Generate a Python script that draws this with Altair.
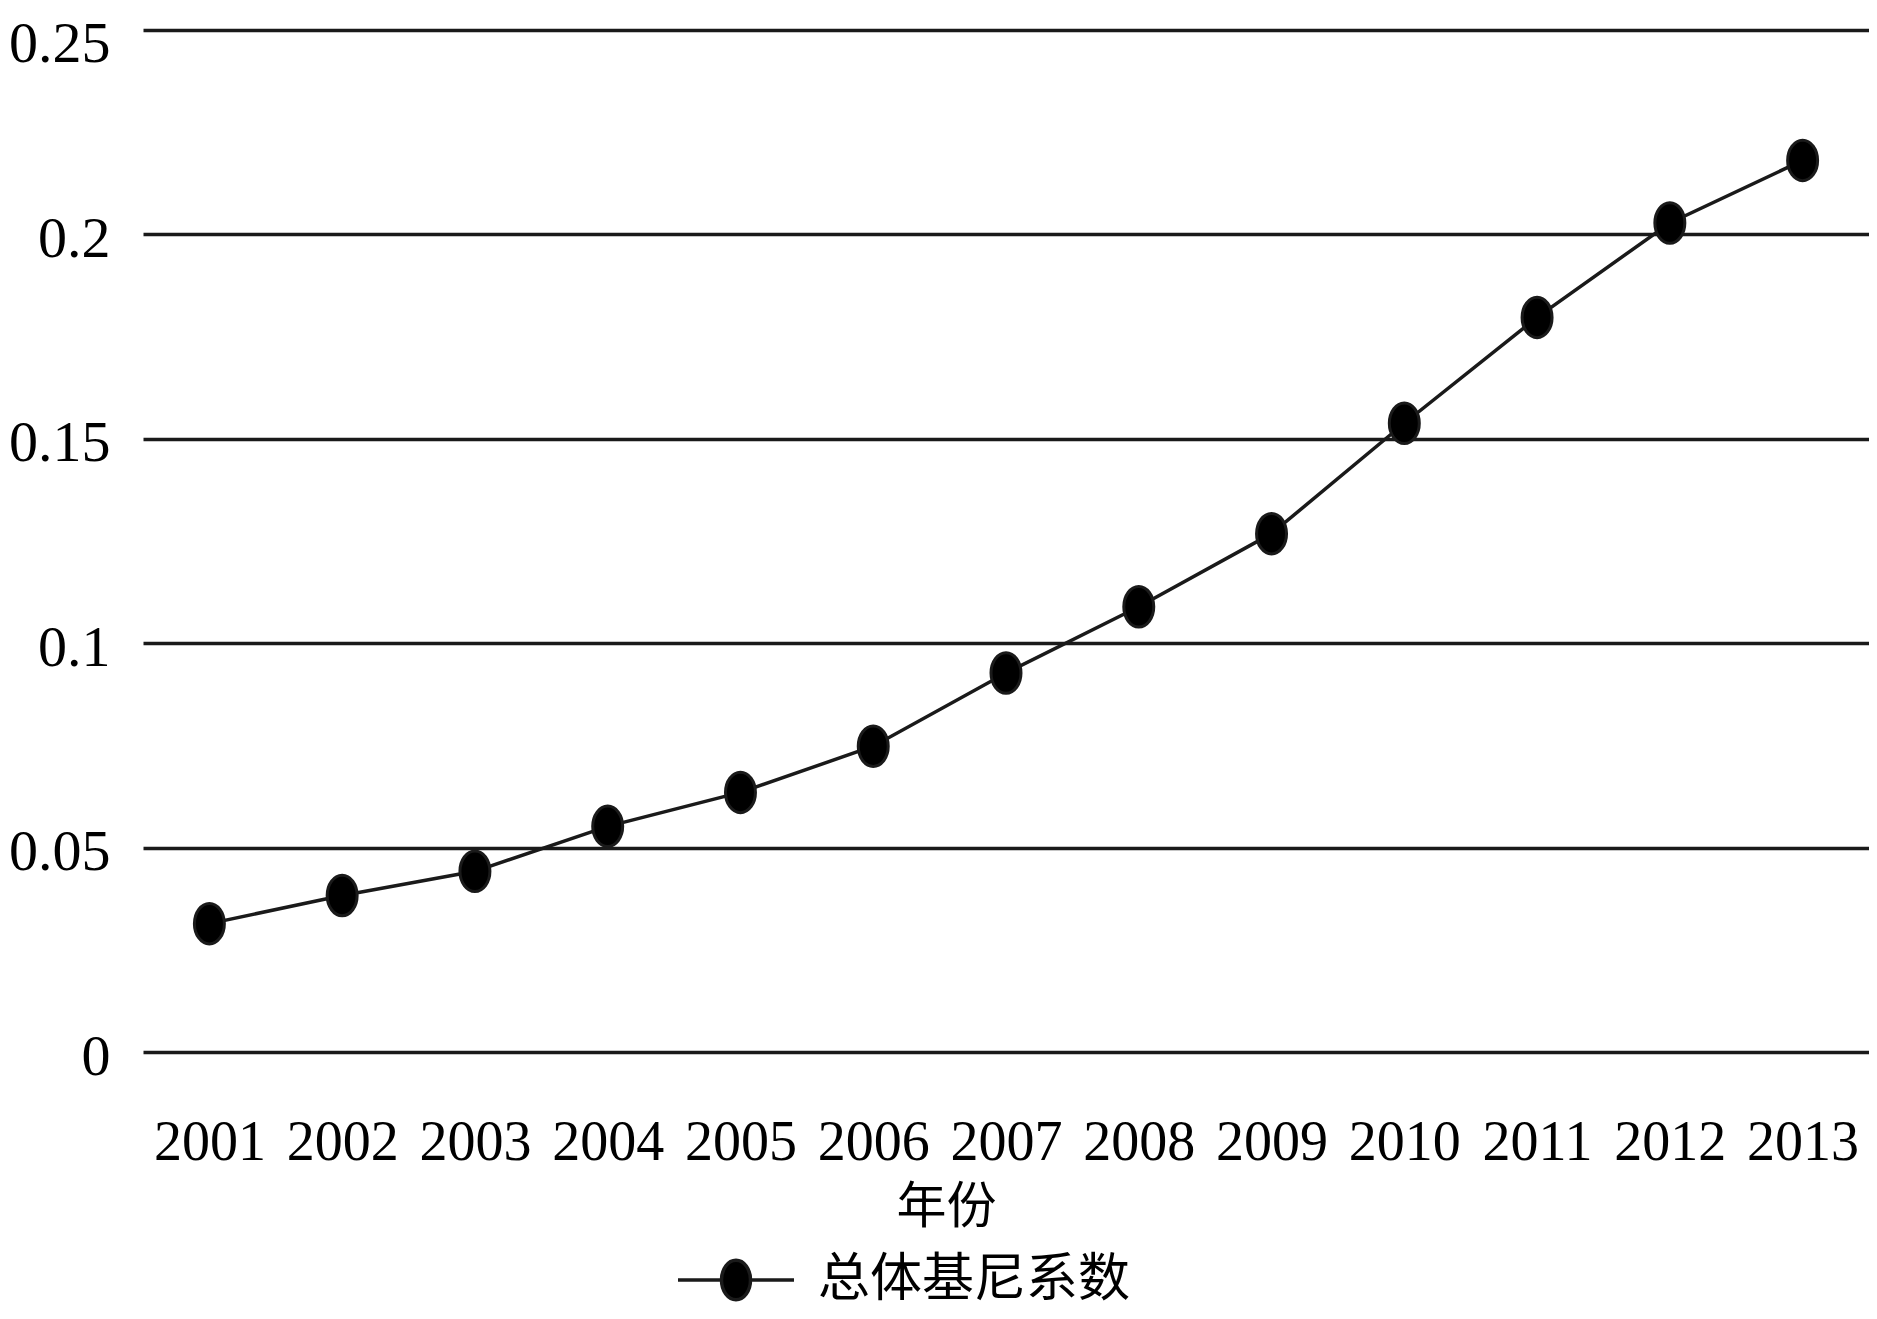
import altair as alt
import pandas as pd

years = ["2001", "2002", "2003", "2004", "2005", "2006", "2007",
         "2008", "2009", "2010", "2011", "2012", "2013"]
gini = [0.0314, 0.0383, 0.0442, 0.0552, 0.0635, 0.0748, 0.0927,
        0.1089, 0.1268, 0.1538, 0.1797, 0.2028, 0.2181]
series_name = "总体基尼系数"
y_ticks = [0, 0.05, 0.1, 0.15, 0.2, 0.25]

df = pd.DataFrame({"年份": years, "值": gini, "系列": [series_name] * len(years)})

INK = "#1a1a1a"
ellipse = "M-0.74,0 A0.74,1 0 1,1 0.74,0 A0.74,1 0 1,1 -0.74,0 Z"
legend_shape = ("M-1,0 L-0.25,0 M0.25,0 L1,0 "
                "M-0.25,0 A0.25,0.34 0 1,1 0.25,0 A0.25,0.34 0 1,1 -0.25,0 Z")

x_enc = alt.X(
    "年份:N",
    sort=years,
    scale=alt.Scale(type="point", padding=0.5),
    axis=alt.Axis(
        title="年份",
        titleFont="Noto Sans CJK SC",
        titleFontSize=50,
        titleFontWeight="normal",
        titleColor="#000000",
        titleX=803,
        titleY=155,
        titleBaseline="middle",
        titleAlign="center",
        labelFont="Liberation Serif",
        labelFontSize=56,
        labelColor="#000000",
        labelPadding=63,
        labelAngle=0,
        ticks=False,
        tickSize=0,
        domain=False,
        grid=False,
    ),
)
y_enc = alt.Y(
    "值:Q",
    scale=alt.Scale(domain=[0, 0.25], nice=False, zero=True),
    axis=alt.Axis(
        title=None,
        values=y_ticks,
        format=".2~f",
        labelFont="Liberation Serif",
        labelFontSize=58,
        labelColor="#000000",
        labelPadding=33,
        labelOffset={"condition": {"test": "datum.value > 0.24", "value": 14}, "value": 5},
        ticks=False,
        tickSize=0,
        domain=False,
        grid=True,
        gridColor=INK,
        gridWidth=3.5,
        gridOpacity=1,
    ),
)

line = alt.Chart(df).mark_line(color=INK, strokeWidth=3.5).encode(x=x_enc, y=y_enc)

points = alt.Chart(df).mark_point(
    filled=True, shape=ellipse, size=1640, stroke=INK, strokeWidth=3, opacity=1
).encode(
    x=x_enc,
    y=y_enc,
    color=alt.Color(
        "系列:N",
        scale=alt.Scale(range=["#000000"]),
        legend=alt.Legend(
            title=None,
            orient="none",
            legendX=533,
            legendY=1190,
            padding=0,
            symbolType=legend_shape,
            symbolSize=13456,
            symbolFillColor="#000000",
            symbolStrokeColor=INK,
            symbolStrokeWidth=3.5,
            symbolOpacity=1,
            labelFont="Noto Sans CJK SC",
            labelFontSize=52,
            labelColor="#000000",
            labelOffset=22,
            labelLimit=1000,
        ),
    ),
)

chart = (
    alt.layer(line, points)
    .properties(
        width=1726,
        height=1022,
        padding={"left": 135, "top": 22, "right": 0, "bottom": 259},
        autosize=alt.AutoSizeParams(type="none"),
        background="#ffffff",
    )
    .configure_view(stroke=None)
)

chart.save("out.html", embed_options={"renderer": "svg", "actions": False})
